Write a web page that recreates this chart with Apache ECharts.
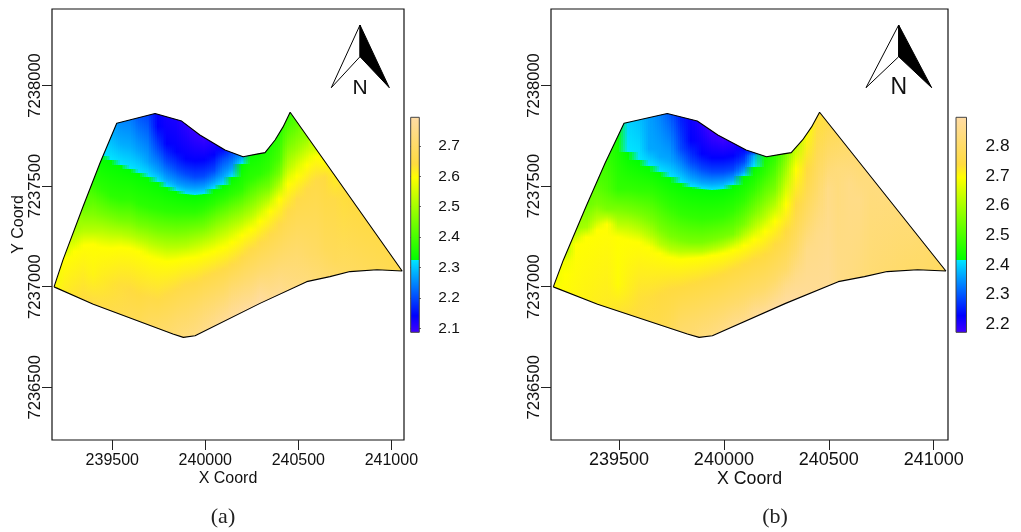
<!DOCTYPE html>
<html><head><meta charset="utf-8">
<style>html,body{margin:0;padding:0;background:#fff}#c{width:1021px;height:532px}</style>
<script src="https://cdn.jsdelivr.net/npm/echarts@6/dist/echarts.min.js"></script>
</head><body><div id="c"></div>
<script>
// Tick labels
const xTicks = [239500, 240000, 240500, 241000];
const yTicks = [7236500, 7237000, 7237500, 7238000];
const barTicksA = [2.1, 2.2, 2.3, 2.4, 2.5, 2.6, 2.7];
const barTicksB = [2.2, 2.3, 2.4, 2.5, 2.6, 2.7, 2.8];
// Survey-area outline
const boundaryEast = [239187,239235,239342,239434,239524,239730,239873,239971,240106,240203,240284,240321,240375,240418,240456,241058,240923,240778,240670,240545,240294,239945,239882,239826,239398,239187];
const boundaryNorth = [7236999,7237133,7237396,7237615,7237812,7237861,7237823,7237754,7237679,7237646,7237660,7237666,7237729,7237794,7237867,7237078,7237084,7237075,7237050,7237025,7236917,7236756,7236748,7236765,7236913,7236999];
// Raster columns: centre easting of each column
const columnEast = [239200,239250,239300,239350,239400,239450,239500,239550,239600,239650,239700,239750,239800,239850,239900,239950,240000,240050,240100,240150,240200,240250,240300,240350,240400,240450,240500,240550,240600,240650,240700,240750,240800,240850,240900,240950,241000,241050];
const northBase = 7237000;
// Colour-key ramp
const rampColors = ['#4400ff','#0000ff','#00e5ff','#00ff00','#ffff00','#ffdb40','#ffdca6'];
const rampValuesA = [2.087,2.143,2.324,2.324,2.596,2.64,2.794];
const rampValuesB = [2.173,2.231,2.416,2.416,2.695,2.738,2.898];
// For each column: metres north of northBase, value read at that point, ...
const columnsA = [
[35,2.585,-5,2.6],
[175,2.55,145,2.596,-25,2.62],
[295,2.49,210,2.56,175,2.596,-45,2.63],
[410,2.42,360,2.46,275,2.52,205,2.596,-65,2.64],
[535,2.36,360,2.46,275,2.52,210,2.596,60,2.61,-85,2.65],
[650,2.324,485,2.37,360,2.45,275,2.52,195,2.596,35,2.62,-110,2.655],
[765,2.28,630,2.324,450,2.37,345,2.45,265,2.52,190,2.596,10,2.63,-130,2.66],
[825,2.25,710,2.28,605,2.324,435,2.37,330,2.45,260,2.52,195,2.596,10,2.635,-150,2.665],
[840,2.24,695,2.28,585,2.324,435,2.37,325,2.45,250,2.52,190,2.596,-15,2.64,-165,2.67],
[850,2.21,675,2.27,565,2.324,410,2.37,305,2.45,235,2.52,175,2.596,-40,2.64,-185,2.675],
[865,2.19,620,2.27,545,2.324,395,2.37,295,2.45,220,2.52,150,2.596,-55,2.65,-200,2.69],
[865,2.14,795,2.143,685,2.2,575,2.27,520,2.324,385,2.37,280,2.45,205,2.52,135,2.596,-65,2.65,-220,2.7],
[855,2.125,710,2.143,620,2.2,535,2.27,495,2.324,375,2.37,275,2.45,195,2.52,125,2.596,-40,2.65,-235,2.71],
[840,2.12,670,2.143,585,2.2,510,2.27,475,2.324,370,2.37,270,2.45,195,2.52,130,2.596,-15,2.65,-165,2.7,-250,2.72],
[815,2.105,635,2.143,560,2.2,495,2.27,460,2.324,370,2.37,275,2.45,200,2.52,140,2.596,10,2.65,-150,2.7,-250,2.73],
[775,2.095,695,2.12,625,2.143,545,2.2,490,2.27,455,2.324,370,2.37,285,2.45,215,2.52,145,2.596,20,2.65,-115,2.7,-250,2.74],
[730,2.1,630,2.143,550,2.2,495,2.27,460,2.324,385,2.37,295,2.45,230,2.52,160,2.596,45,2.65,-80,2.7,-225,2.75],
[705,2.12,655,2.143,575,2.2,520,2.27,485,2.324,410,2.37,325,2.45,250,2.52,175,2.596,65,2.65,-55,2.7,-200,2.76],
[685,2.143,635,2.2,550,2.27,505,2.324,435,2.37,350,2.45,275,2.52,195,2.596,85,2.65,-30,2.7,-180,2.77],
[665,2.2,585,2.27,545,2.324,460,2.37,375,2.45,300,2.52,220,2.596,110,2.65,-5,2.71,-160,2.78],
[650,2.26,610,2.324,485,2.37,400,2.45,325,2.52,255,2.596,145,2.65,20,2.71,-135,2.785],
[660,2.335,535,2.37,435,2.45,355,2.52,285,2.596,185,2.65,45,2.71,-65,2.76,-110,2.79],
[670,2.34,560,2.37,470,2.45,395,2.52,325,2.596,220,2.65,75,2.71,-40,2.77,-85,2.79],
[700,2.35,585,2.38,495,2.45,435,2.52,375,2.596,260,2.65,95,2.71,-65,2.77],
[775,2.36,635,2.4,560,2.45,495,2.52,435,2.596,310,2.65,125,2.71,-45,2.77],
[870,2.37,710,2.45,595,2.52,510,2.596,375,2.65,145,2.71,-25,2.75],
[815,2.42,685,2.49,610,2.55,550,2.596,435,2.65,160,2.71,-10,2.74],
[745,2.48,685,2.53,605,2.596,485,2.65,160,2.7,25,2.73],
[680,2.55,645,2.596,525,2.65,160,2.695,35,2.72],
[615,2.6,545,2.64,185,2.68,50,2.71],
[550,2.615,435,2.65,135,2.68,60,2.7],
[485,2.635,75,2.69],
[420,2.64,80,2.685],
[355,2.645,85,2.68],
[290,2.65,85,2.675],
[225,2.655,85,2.67],
[160,2.66,80,2.665],
[110,2.66,75,2.66]
];
const columnsB = [
[35,2.68,-5,2.695],
[175,2.62,125,2.68,60,2.695,-25,2.7],
[295,2.58,235,2.66,210,2.695,-45,2.705],
[410,2.53,295,2.6,245,2.695,-65,2.71],
[535,2.5,410,2.55,335,2.62,280,2.695,-85,2.715],
[650,2.47,485,2.5,385,2.55,345,2.62,310,2.695,-110,2.72],
[760,2.43,485,2.47,385,2.55,310,2.62,245,2.695,10,2.7,-130,2.73],
[825,2.4,670,2.416,485,2.47,375,2.55,305,2.62,230,2.695,-15,2.715,-150,2.735],
[840,2.385,630,2.416,475,2.47,360,2.55,285,2.62,220,2.695,-40,2.73,-165,2.745],
[850,2.36,685,2.367,600,2.416,470,2.47,335,2.55,255,2.62,195,2.695,-55,2.735,-185,2.755],
[865,2.335,645,2.367,570,2.416,435,2.47,285,2.55,210,2.62,165,2.695,-40,2.738,-200,2.76],
[865,2.3,625,2.367,545,2.416,395,2.47,250,2.55,185,2.62,145,2.695,-15,2.738,-220,2.775],
[855,2.25,685,2.289,575,2.367,515,2.416,360,2.47,230,2.55,175,2.62,135,2.695,-5,2.738,-205,2.8,-235,2.805],
[840,2.22,725,2.231,620,2.289,535,2.367,495,2.416,345,2.47,220,2.55,175,2.62,140,2.695,10,2.738,-180,2.8,-250,2.815],
[815,2.195,660,2.231,585,2.289,515,2.367,485,2.416,335,2.47,220,2.55,175,2.62,145,2.695,25,2.738,-155,2.8,-250,2.83],
[775,2.175,640,2.231,570,2.289,510,2.367,480,2.416,340,2.47,230,2.55,185,2.62,155,2.695,40,2.738,-130,2.8,-250,2.84],
[730,2.18,640,2.231,570,2.289,515,2.367,485,2.416,350,2.47,245,2.55,200,2.62,165,2.695,60,2.738,-105,2.8,-225,2.85],
[705,2.2,650,2.231,580,2.289,530,2.367,505,2.416,375,2.47,260,2.55,220,2.62,180,2.695,85,2.738,-80,2.8,-200,2.86],
[685,2.231,620,2.289,570,2.367,550,2.416,425,2.47,310,2.55,255,2.62,205,2.695,110,2.738,-55,2.8,-155,2.85,-180,2.87],
[665,2.3,650,2.367,595,2.416,485,2.47,370,2.55,295,2.62,235,2.695,135,2.738,-30,2.8,-125,2.86,-160,2.875],
[650,2.43,560,2.47,435,2.55,345,2.62,275,2.695,160,2.738,-5,2.8,-90,2.85,-135,2.885],
[660,2.46,485,2.55,400,2.62,325,2.695,210,2.738,35,2.8,-50,2.85,-110,2.89],
[670,2.54,535,2.62,410,2.695,275,2.738,85,2.8,10,2.85,-85,2.89],
[700,2.62,585,2.695,410,2.738,185,2.8,60,2.85,-65,2.885],
[775,2.69,585,2.738,335,2.8,185,2.85,-45,2.875],
[870,2.73,660,2.77,485,2.8,260,2.85,-25,2.87],
[815,2.76,660,2.8,485,2.85,-10,2.87],
[745,2.785,585,2.83,25,2.85],
[680,2.81,510,2.85,35,2.84],
[615,2.82,435,2.85,50,2.83],
[550,2.835,60,2.82],
[485,2.835,75,2.815],
[420,2.83,80,2.81],
[355,2.825,85,2.805],
[290,2.82,85,2.8],
[225,2.81,85,2.8],
[160,2.8,80,2.795],
[110,2.79,75,2.79]
];

const FONT = '"Liberation Sans", Arial, sans-serif';
const xExtent = [239176, 241068], yExtent = [7236238, 7238380];
const colStep = 50, northSpanTop = 900, northSpanBottom = -300, fadeStrips = 5;

function hex(c){return [1,3,5].map(i=>parseInt(c.slice(i,i+2),16));}
function rampColor(vals, v){
  if (v <= vals[0]) return rampColors[0];
  for (let i = 1; i < vals.length; i++) {
    if (v <= vals[i] && vals[i] > vals[i-1]) {
      const t = (v - vals[i-1]) / (vals[i] - vals[i-1]);
      const a = hex(rampColors[i-1]), b = hex(rampColors[i]);
      return 'rgb(' + a.map((p,k)=>Math.round(p+(b[k]-p)*t)).join(',') + ')';
    }
  }
  return rampColors[rampColors.length-1];
}
function columnStops(col, vals){
  const brk = vals[2], stops = [];
  for (let i = 0; i < col.length; i += 2) {
    const offset = (northSpanTop - col[i]) / (northSpanTop - northSpanBottom);
    if (col[i+1] === brk) {
      stops.push({offset, color: rampColors[2]}, {offset, color: rampColors[3]});
    } else {
      stops.push({offset, color: rampColor(vals, col[i+1])});
    }
  }
  return stops;
}
// Each column is painted with its own vertical gradient; its left edge fades over its neighbour.
function rasterSeries(columns, vals, idx){
  return {
    type:'custom', coordinateSystem:'cartesian2d', xAxisIndex:idx, yAxisIndex:idx,
    silent:true, animation:false, clip:false,
    data: columnEast.map(e=>[e]),
    encode:{x:0},
    renderItem(params, api){
      const e = api.value(0), i = params.dataIndex, last = columnEast.length - 1;
      const top = api.coord([e, northBase+northSpanTop])[1];
      const bottom = api.coord([e, northBase+northSpanBottom])[1];
      const px = api.coord([e, northBase])[0];
      const step = api.size([colStep, 0])[0];
      const pts = boundaryEast.map((b,k)=>api.coord([b, boundaryNorth[k]]));
      const fill = new echarts.graphic.LinearGradient(0,0,0,1,columnStops(columns[i], vals));
      const rect = (x0, x1, opacity)=>({type:'rect',
        shape:{x:x0, y:top, width:x1-x0, height:bottom-top}, style:{fill, opacity}});
      const children = [];
      if (i === 0) {
        children.push(rect(Math.round(px-step), Math.round(px), 1));
      } else {
        const w = step / fadeStrips, start = px - step;
        for (let k = 0; k < fadeStrips; k++) {
          children.push(rect(Math.round(start+k*w), Math.round(start+(k+1)*w), (k+1)/fadeStrips));
        }
      }
      children.push(rect(Math.round(px), Math.round(i === last ? px+step/2 : px+step)+1, 1));
      return {type:'group', children, clipPath:{type:'polygon', shape:{points:pts}}};
    }
  };
}
function outlineSeries(idx){
  return {
    type:'line', xAxisIndex:idx, yAxisIndex:idx, silent:true, animation:false, symbol:'none', z:5,
    data: boundaryEast.map((b,i)=>[b, boundaryNorth[i]]),
    lineStyle:{color:'#000', width:1.1}
  };
}
function barSeries(vals, idx){
  return {
    type:'custom', coordinateSystem:'cartesian2d', xAxisIndex:idx, yAxisIndex:idx,
    silent:true, animation:false, clip:false,
    data:[[0]], encode:{x:0},
    renderItem(params, api){
      const lo = vals[0], hi = vals[vals.length-1];
      const tl = api.coord([0, hi]), br = api.coord([1, lo]);
      const stops = vals.map((v,i)=>({offset:(hi-v)/(hi-lo), color:rampColors[i]})).reverse();
      return {type:'rect', shape:{x:tl[0], y:tl[1], width:br[0]-tl[0], height:br[1]-tl[1]},
        style:{fill:new echarts.graphic.LinearGradient(0,0,0,1,stops), stroke:'#444', lineWidth:1}};
    }
  };
}
const tickStyle = {show:true, inside:false, length:10, lineStyle:{color:'#222', width:1}};
function mapX(idx, size, nameSize, gap, margin){
  return {type:'value', gridIndex:idx, min:xExtent[0], max:xExtent[1], splitLine:{show:false},
    axisLine:{show:false},
    axisTick:{...tickStyle, customValues:xTicks},
    axisLabel:{customValues:xTicks, formatter:v=>String(v), margin:margin, fontFamily:FONT, fontSize:size, color:'#111'},
    name:'X Coord', nameLocation:'middle', nameGap:gap, nameMoveOverlap:false, nameTextStyle:{fontFamily:FONT, fontSize:nameSize, color:'#111'}};
}
function mapY(idx, name){
  return {type:'value', gridIndex:idx, min:yExtent[0], max:yExtent[1], splitLine:{show:false},
    axisLine:{show:false},
    axisTick:{...tickStyle, customValues:yTicks},
    axisLabel:{customValues:yTicks, formatter:v=>String(v), rotate:90, margin:8, fontFamily:FONT, fontSize:16.6, color:'#111'},
    name:name, nameLocation:'middle', nameGap:25, nameMoveOverlap:false, nameTextStyle:{fontFamily:FONT, fontSize:16, color:'#111'}};
}
function barX(idx){ return {type:'value', gridIndex:idx, min:0, max:1, show:false}; }
function barY(idx, vals, ticks, size){
  return {type:'value', gridIndex:idx, position:'right', min:vals[0], max:vals[vals.length-1], splitLine:{show:false},
    axisLine:{show:false},
    axisTick:{...tickStyle, customValues:ticks},
    axisLabel:{customValues:ticks, formatter:v=>v.toFixed(1), margin:19, fontFamily:FONT, fontSize:size, color:'#111'}};
}
function arrow(tip, left, right, n){
  const inner = 56.7, base = 87.7, top = 25;
  return [
    {type:'polygon', shape:{points:[[tip,top],[left,base],[tip,inner]]}, style:{fill:'#fff', stroke:'#000', lineWidth:1}},
    {type:'polygon', shape:{points:[[tip,top],[right,base],[tip,inner]]}, style:{fill:'#000', stroke:'#000', lineWidth:1}},
    {type:'text', style:{text:'N', x:tip, y:88, align:'center', verticalAlign:'middle', font:n+'px '+FONT, fill:'#111'}}
  ];
}
function caption(t, x){
  return {type:'text', style:{text:t, x:x, y:517, align:'center', verticalAlign:'middle', font:'22px "Liberation Serif", serif', fill:'#222'}};
}
const border = {show:true, borderColor:'#111', borderWidth:1.2, backgroundColor:'transparent'};
const chart = echarts.init(document.getElementById('c'), null, {renderer:'canvas'});
chart.setOption({
  animation:false, backgroundColor:'#fff',
  grid:[
    {left:52, top:9, width:352, height:431, ...border},
    {left:410.7, top:117.3, width:8.6, height:215},
    {left:551, top:9, width:397, height:431, ...border},
    {left:956, top:117.3, width:10.5, height:215}
  ],
  xAxis:[mapX(0,16,16,31,13), barX(1), mapX(2,18,17.8,30,11), barX(3)],
  yAxis:[mapY(0,'Y Coord'), barY(1,rampValuesA,barTicksA,15.5), mapY(2,''), barY(3,rampValuesB,barTicksB,17.3)],
  series:[
    rasterSeries(columnsA, rampValuesA, 0), outlineSeries(0), barSeries(rampValuesA, 1),
    rasterSeries(columnsB, rampValuesB, 2), outlineSeries(2), barSeries(rampValuesB, 3)
  ],
  graphic:[...arrow(360,331.3,389.3,21), ...arrow(898.7,866,931.7,23), caption('(a)',223), caption('(b)',775)]
});
</script></body></html>
